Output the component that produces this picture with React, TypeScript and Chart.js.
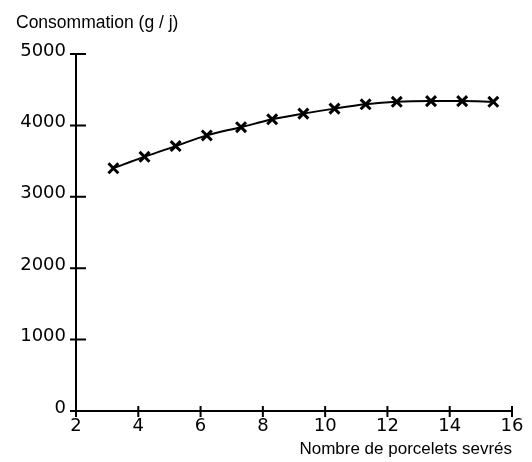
import React, { useEffect, useRef } from "react";
import { Chart, registerables } from "chart.js";

Chart.register(...registerables);

const piglets = [3.2, 4.2, 5.2, 6.2, 7.3, 8.3, 9.3, 10.3, 11.3, 12.3, 13.4, 14.4, 15.4];
const consumption = [3400, 3560, 3710, 3860, 3975, 4085, 4165, 4235, 4295, 4330, 4340, 4340, 4330];
const xTicks = [2, 4, 6, 8, 10, 12, 14, 16];
const yTicks = [0, 1000, 2000, 3000, 4000, 5000];
const yTitle = "Consommation (g / j)";
const xTitle = "Nombre de porcelets sevrés";

const tickFont = "DejaVu Sans";
const textFont = "Liberation Sans";

const axesPlugin = {
  id: "handAxes",
  afterDatasetsDraw(chart: any) {
    const { ctx } = chart;
    const x = chart.scales.x;
    const y = chart.scales.y;
    const x0 = x.getPixelForValue(xTicks[0]);
    const x1 = x.getPixelForValue(xTicks[xTicks.length - 1]);
    const y0 = y.getPixelForValue(yTicks[0]);
    const y1 = y.getPixelForValue(yTicks[yTicks.length - 1]);
    ctx.save();
    ctx.strokeStyle = "#000";
    ctx.lineWidth = 2;
    ctx.lineCap = "butt";
    ctx.beginPath();
    ctx.moveTo(x0, y0);
    ctx.lineTo(x0, y1);
    ctx.moveTo(x0, y0);
    ctx.lineTo(x1, y0);
    for (const t of yTicks) {
      const py = y.getPixelForValue(t);
      ctx.moveTo(x0 - 6, py);
      ctx.lineTo(x0 + 10, py);
    }
    for (const t of xTicks) {
      const px = x.getPixelForValue(t);
      ctx.moveTo(px, y0 - 5);
      ctx.lineTo(px, y0 + 6);
    }
    ctx.stroke();
    ctx.restore();
  },
};

export default function App() {
  const ref = useRef<HTMLCanvasElement | null>(null);
  useEffect(() => {
    if (!ref.current) return;
    const chart = new Chart(ref.current, {
      type: "line",
      data: {
        datasets: [
          {
            data: piglets.map((p, i) => ({ x: p, y: consumption[i] })),
            borderColor: "#000",
            borderWidth: 2,
            tension: 0.4,
            cubicInterpolationMode: "monotone",
            pointStyle: "crossRot",
            pointRadius: 7,
            pointBorderWidth: 3,
            pointBorderColor: "#000",
            pointBackgroundColor: "#000",
            fill: false,
          },
        ],
      },
      options: {
        responsive: false,
        animation: false,
        layout: { padding: { left: 16, right: 20, top: 13, bottom: 0 } },
        plugins: {
          legend: { display: false },
          tooltip: { enabled: false },
          title: {
            display: true,
            text: yTitle,
            align: "start",
            color: "#000",
            font: { family: textFont, size: 17.5, weight: "normal", lineHeight: 1.2 },
            padding: { top: 0, bottom: 20 },
          },
        },
        scales: {
          x: {
            type: "linear",
            min: xTicks[0],
            max: xTicks[xTicks.length - 1],
            afterBuildTicks: (s: any) => {
              s.ticks = xTicks.map((v) => ({ value: v }));
            },
            afterFit: (s: any) => {
              s.height = 51;
            },
            grid: { display: false, drawTicks: false },
            border: { display: false },
            ticks: {
              color: "#000",
              padding: 5,
              font: { family: tickFont, size: 18 },
              maxRotation: 0,
              callback: (v: any) => String(v),
            },
            title: {
              display: true,
              text: xTitle,
              align: "end",
              color: "#000",
              font: { family: textFont, size: 17, lineHeight: 1.2 },
              padding: { top: 0, bottom: 2 },
            },
          },
          y: {
            type: "linear",
            min: yTicks[0],
            max: yTicks[yTicks.length - 1],
            afterBuildTicks: (s: any) => {
              s.ticks = yTicks.map((v) => ({ value: v }));
            },
            afterFit: (s: any) => {
              s.width = 60;
            },
            grid: { display: false, drawTicks: false },
            border: { display: false },
            ticks: {
              color: "#000",
              padding: 10,
              labelOffset: -3,
              font: { family: tickFont, size: 18 },
              callback: (v: any) => String(v),
            },
          },
        },
      },
      plugins: [axesPlugin],
    } as any);
    return () => chart.destroy();
  }, []);
  return (
    <div style={{ position: "fixed", left: 0, top: 0, width: 532, height: 462, background: "#fff" }}>
      <canvas ref={ref} width={532} height={462} style={{ display: "block", width: 532, height: 462 }} />
    </div>
  );
}
